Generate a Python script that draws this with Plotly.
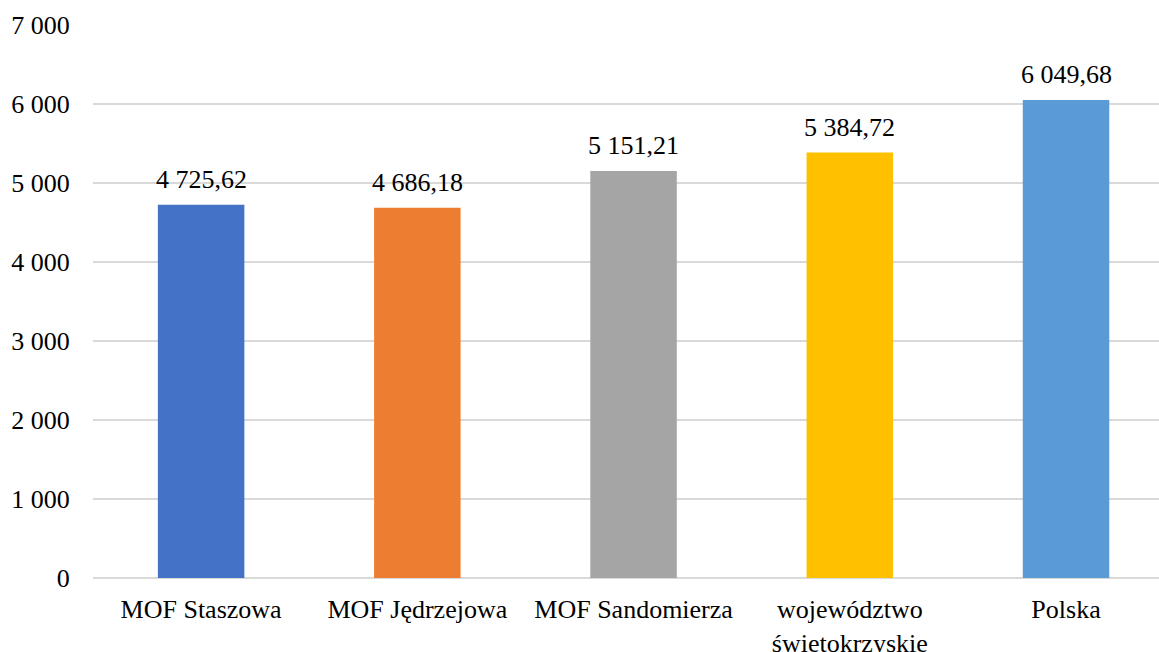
import plotly.graph_objects as go

# =============================================================================
# Data
# =============================================================================
categories = ["MOF Staszowa", "MOF Jędrzejowa", "MOF Sandomierza",
              "województwo<br>świętokrzyskie", "Polska"]
values = [4725.62, 4686.18, 5151.21, 5384.72, 6049.68]
bar_colors = ["#4472C4", "#ED7D31", "#A5A5A5", "#FFC000", "#5B9BD5"]
y_ticks = [0, 1000, 2000, 3000, 4000, 5000, 6000, 7000]

FONT = "Liberation Serif, Times New Roman, serif"

# =============================================================================
# Figure
# =============================================================================
fig = go.Figure()

fig.add_trace(go.Bar(
    x=list(range(len(categories))),
    y=values,
    marker=dict(color=bar_colors, line=dict(width=0)),
    width=0.40,
    showlegend=False,
))

# value labels above the bars
for i, v in enumerate(values):
    fig.add_annotation(
        x=i, y=v,
        text=f"{v:,.2f}".replace(",", " ").replace(".", ","),
        showarrow=False,
        yanchor="bottom",
        yshift=9,
        font=dict(family=FONT, size=26, color="#000000"),
    )

fig.update_layout(
    width=1159,
    height=652,
    margin=dict(l=93, r=0, t=25, b=74),
    paper_bgcolor="white",
    plot_bgcolor="white",
    separators=", ",
    font=dict(family=FONT, size=26, color="#000000"),
    xaxis=dict(
        range=[-0.5, 4.43],
        tickmode="array",
        tickvals=list(range(len(categories))),
        ticktext=categories,
        showgrid=False,
        showline=False,
        ticks="outside",
        ticklen=8,
        tickcolor="rgba(0,0,0,0)",
        zeroline=False,
        automargin=False,
    ),
    yaxis=dict(
        range=[0, 7000],
        tickmode="array",
        tickvals=y_ticks,
        tickformat=",d",
        showgrid=True,
        gridcolor="#D9D9D9",
        gridwidth=1.5,
        zeroline=True,
        zerolinecolor="#D9D9D9",
        zerolinewidth=1.5,
        ticks="outside",
        ticklen=17,
        tickcolor="rgba(0,0,0,0)",
        showline=False,
        automargin=False,
    ),
)

fig.write_html("out.html", config={"displayModeBar": False},
               post_script="document.body.style.margin='0';")
